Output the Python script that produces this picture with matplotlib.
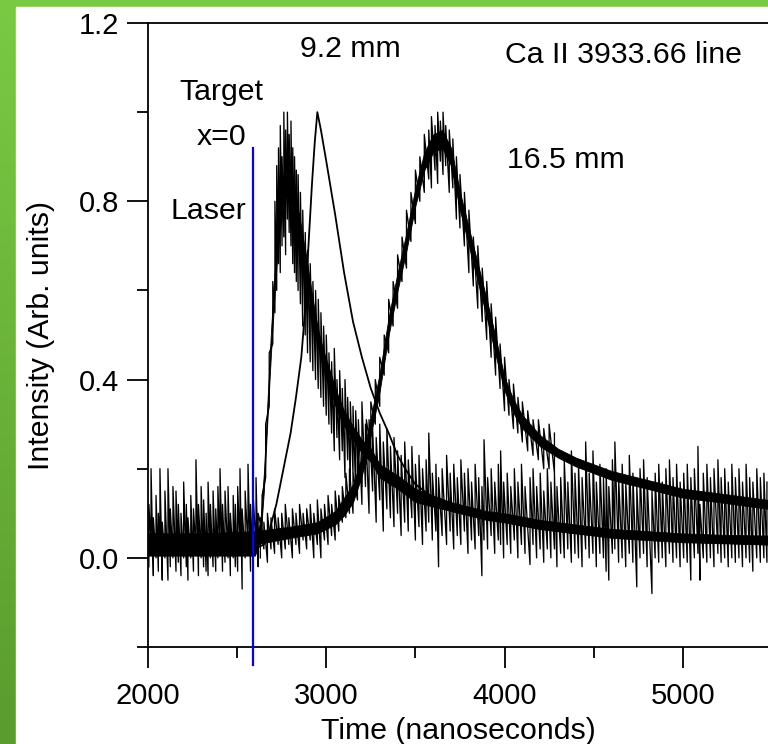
import numpy as np
import matplotlib
matplotlib.use('Agg')
import matplotlib.pyplot as plt
from matplotlib.patches import Rectangle
from matplotlib.ticker import MultipleLocator, FormatStrFormatter

plt.rcParams['font.family'] = ['Liberation Sans', 'DejaVu Sans']

# --- data ---
# nearest position (very noisy trace): dense core of the trace
near_t = [2000, 2150, 2300, 2450, 2600, 2630, 2650, 2670, 2690, 2710, 2730, 2750, 2770,
          2790, 2810, 2830, 2860, 2890, 2920, 2950, 2980, 3020, 3060, 3100, 3150, 3200,
          3250, 3300, 3400, 3500, 3600, 3700, 3800, 3900, 4000, 4200, 4400, 4600, 4800,
          5000, 5200, 5478]
near_lo = [0.005, 0.005, 0.005, 0.005, 0.005, 0.04, 0.15, 0.31, 0.46, 0.59, 0.71, 0.77, 0.82,
           0.83, 0.80, 0.76, 0.69, 0.62, 0.54, 0.48, 0.43, 0.38, 0.33, 0.295, 0.265, 0.235,
           0.215, 0.18, 0.155, 0.125, 0.115, 0.105, 0.095, 0.085, 0.08, 0.065, 0.055, 0.045,
           0.04, 0.035, 0.033, 0.03]
near_hi = [0.045, 0.045, 0.045, 0.045, 0.045, 0.08, 0.19, 0.35, 0.51, 0.64, 0.76, 0.82, 0.87,
           0.88, 0.85, 0.81, 0.74, 0.67, 0.59, 0.52, 0.47, 0.42, 0.37, 0.33, 0.295, 0.265,
           0.245, 0.21, 0.185, 0.155, 0.14, 0.125, 0.115, 0.105, 0.10, 0.085, 0.075, 0.065,
           0.06, 0.055, 0.052, 0.05]

# 9.2 mm (smooth trace)
mid_t = [2000, 2300, 2600, 2650, 2680, 2720, 2760, 2800, 2830, 2860, 2880, 2900, 2920, 2935,
         2950, 2970, 3000, 3050, 3100, 3150, 3200, 3250, 3300, 3350, 3400, 3450, 3500, 3600,
         3700, 3800, 3900, 4000, 4200, 4400, 4600, 4800, 5000, 5200, 5478]
mid_v = [0.02, 0.02, 0.02, 0.03, 0.06, 0.12, 0.20, 0.28, 0.36, 0.45, 0.55, 0.70, 0.84, 0.93,
         1.0, 0.96, 0.89, 0.77, 0.64, 0.53, 0.45, 0.38, 0.325, 0.28, 0.23, 0.195, 0.165, 0.135,
         0.115, 0.10, 0.088, 0.08, 0.065, 0.055, 0.048, 0.042, 0.038, 0.034, 0.03]

# 16.5 mm (moderately noisy trace): dense core
far_t = [2000, 2300, 2600, 2800, 2950, 3050, 3100, 3150, 3200, 3250, 3300, 3350, 3400, 3450,
         3500, 3550, 3600, 3650, 3700, 3750, 3800, 3850, 3900, 3950, 4000, 4050, 4100, 4200,
         4300, 4400, 4500, 4600, 4800, 5000, 5200, 5478]
far_lo = [0.025, 0.025, 0.03, 0.045, 0.055, 0.075, 0.095, 0.125, 0.185, 0.275, 0.375, 0.50,
          0.60, 0.69, 0.79, 0.87, 0.91, 0.92, 0.88, 0.78, 0.70, 0.62, 0.54, 0.455, 0.375,
          0.325, 0.29, 0.25, 0.225, 0.205, 0.19, 0.175, 0.155, 0.135, 0.125, 0.11]
far_hi = [0.055, 0.055, 0.06, 0.07, 0.08, 0.105, 0.135, 0.165, 0.225, 0.315, 0.415, 0.54,
          0.64, 0.73, 0.83, 0.91, 0.95, 0.96, 0.92, 0.82, 0.74, 0.66, 0.58, 0.495, 0.405,
          0.355, 0.32, 0.275, 0.245, 0.225, 0.21, 0.195, 0.175, 0.155, 0.145, 0.13]

# noise excursions of the noisy traces: (time, low end, high end)
near_spikes = [
    (2005, -0.02, 0.12), (2017, 0.03, 0.20), (2030, -0.04, 0.09), (2045, 0.00, 0.14),
    (2058, -0.03, 0.10), (2067, 0.03, 0.20), (2080, -0.05, 0.08), (2095, 0.00, 0.15),
    (2112, -0.05, 0.20), (2125, -0.02, 0.11), (2140, 0.00, 0.16), (2157, -0.03, 0.15),
    (2170, -0.01, 0.12), (2185, -0.04, 0.10), (2200, 0.00, 0.17), (2215, -0.02, 0.12),
    (2224, -0.05, 0.09), (2240, 0.00, 0.14), (2255, -0.03, 0.11), (2269, 0.02, 0.22),
    (2283, -0.04, 0.12), (2298, 0.00, 0.16), (2312, -0.02, 0.13), (2326, -0.03, 0.10),
    (2337, -0.04, 0.17), (2350, 0.00, 0.12), (2365, -0.02, 0.15), (2380, -0.03, 0.11),
    (2392, 0.00, 0.16), (2404, 0.02, 0.20), (2418, -0.03, 0.12), (2432, -0.01, 0.15),
    (2449, 0.00, 0.16), (2462, -0.04, 0.10), (2478, 0.00, 0.14), (2490, -0.02, 0.12),
    (2503, -0.03, 0.16), (2516, 0.02, 0.20), (2528, -0.07, 0.11), (2545, 0.00, 0.15),
    (2561, 0.02, 0.21), (2575, -0.03, 0.12), (2590, -0.02, 0.14), (2606, 0.02, 0.18),
    (2618, -0.02, 0.10), (2640, 0.06, 0.14), (2660, 0.18, 0.30), (2680, 0.34, 0.46),
    (2700, 0.48, 0.62), (2712, 0.55, 0.80),
    (2722, 0.60, 0.88), (2732, 0.66, 0.92), (2742, 0.64, 0.97), (2752, 0.70, 0.90),
    (2762, 0.72, 1.00), (2772, 0.68, 0.96), (2782, 0.76, 1.00), (2792, 0.73, 0.95),
    (2802, 0.70, 0.98), (2812, 0.66, 0.92), (2822, 0.64, 0.90), (2832, 0.62, 0.87),
    (2842, 0.60, 0.86), (2855, 0.57, 0.82), (2868, 0.52, 0.78), (2882, 0.50, 0.73),
    (2895, 0.46, 0.69), (2910, 0.44, 0.66), (2925, 0.42, 0.62), (2940, 0.40, 0.60),
    (2955, 0.38, 0.58), (2970, 0.36, 0.55), (2985, 0.34, 0.52), (3000, 0.32, 0.50),
    (3015, 0.30, 0.46), (3030, 0.28, 0.44), (3045, 0.24, 0.47), (3060, 0.27, 0.40),
    (3075, 0.22, 0.42), (3090, 0.24, 0.38), (3105, 0.18, 0.40), (3120, 0.22, 0.36),
    (3135, 0.17, 0.35), (3150, 0.19, 0.34), (3165, 0.15, 0.33), (3180, 0.18, 0.31),
    (3200, 0.12, 0.35), (3220, 0.16, 0.30), (3240, 0.10, 0.31), (3260, 0.15, 0.29),
    (3280, 0.08, 0.27), (3300, 0.13, 0.30), (3320, 0.06, 0.26), (3340, 0.11, 0.29),
    (3360, 0.09, 0.25), (3380, 0.07, 0.27), (3400, 0.10, 0.24), (3420, 0.05, 0.23),
    (3440, 0.08, 0.26), (3460, 0.06, 0.22), (3480, 0.09, 0.25), (3500, 0.04, 0.21),
    (3520, 0.07, 0.23), (3540, 0.03, 0.20), (3560, 0.06, 0.22), (3575, 0.08, 0.28),
    (3595, 0.04, 0.19), (3615, 0.06, 0.21), (3630, -0.02, 0.18), (3650, 0.05, 0.20),
    (3675, 0.03, 0.23), (3695, 0.06, 0.19), (3715, 0.02, 0.21), (3735, 0.05, 0.18),
    (3755, 0.03, 0.22), (3775, 0.06, 0.19), (3795, 0.01, 0.20), (3815, 0.04, 0.17),
    (3835, 0.02, 0.21), (3855, 0.05, 0.18), (3873, -0.04, 0.16), (3885, 0.04, 0.265),
    (3905, 0.02, 0.18), (3925, 0.05, 0.20), (3945, 0.01, 0.17), (3965, 0.04, 0.21),
    (3978, 0.03, 0.24), (3995, 0.00, 0.17), (4015, 0.03, 0.19), (4035, 0.01, 0.16),
    (4055, 0.04, 0.20), (4075, 0.00, 0.17), (4095, 0.03, 0.21), (4115, 0.01, 0.16),
    (4143, -0.015, 0.18), (4160, 0.03, 0.20), (4180, 0.00, 0.16), (4200, 0.02, 0.19),
    (4220, -0.01, 0.15), (4240, 0.02, 0.20), (4260, 0.00, 0.17), (4280, 0.02, 0.19),
    (4294, -0.02, 0.16), (4315, 0.01, 0.18), (4335, 0.00, 0.22), (4355, 0.02, 0.17),
    (4375, -0.01, 0.24), (4395, 0.01, 0.19), (4415, 0.00, 0.21), (4435, -0.02, 0.18),
    (4455, 0.02, 0.26), (4475, 0.00, 0.19), (4496, 0.01, 0.24), (4515, -0.02, 0.17),
    (4535, 0.01, 0.21), (4555, 0.00, 0.18), (4570, -0.03, 0.20), (4585, -0.05, 0.16),
    (4605, 0.01, 0.22), (4619, 0.02, 0.26), (4640, -0.01, 0.18), (4660, 0.00, 0.21),
    (4680, -0.02, 0.17), (4700, 0.01, 0.23), (4720, -0.01, 0.19), (4742, -0.065, 0.16),
    (4760, 0.00, 0.20), (4780, 0.01, 0.22), (4800, -0.02, 0.18), (4827, -0.08, 0.15),
    (4845, 0.00, 0.19), (4865, -0.01, 0.21), (4885, 0.00, 0.17), (4905, -0.02, 0.20),
    (4925, 0.01, 0.22), (4945, -0.01, 0.18), (4965, 0.00, 0.21), (4985, -0.02, 0.17),
    (5005, 0.00, 0.19), (5025, -0.01, 0.21), (5045, -0.05, 0.18), (5065, 0.00, 0.20),
    (5085, 0.01, 0.25), (5096, -0.05, 0.12), (5115, 0.00, 0.19), (5135, -0.01, 0.21),
    (5155, 0.00, 0.18), (5175, -0.02, 0.20), (5197, 0.01, 0.22), (5215, -0.01, 0.18),
    (5235, 0.00, 0.20), (5255, -0.02, 0.17), (5275, 0.00, 0.21), (5295, -0.01, 0.18),
    (5315, 0.00, 0.20), (5335, -0.02, 0.17), (5355, 0.00, 0.21), (5375, -0.01, 0.18),
    (5393, -0.03, 0.17), (5415, 0.00, 0.20), (5435, -0.01, 0.18), (5455, 0.00, 0.19),
    (5472, -0.01, 0.17),
]

far_spikes = [
    (2630, 0.00, 0.09), (2650, 0.02, 0.08), (2670, -0.01, 0.10), (2690, 0.02, 0.09),
    (2710, 0.01, 0.11), (2730, 0.03, 0.09), (2750, 0.00, 0.10), (2770, 0.02, 0.12),
    (2790, 0.03, 0.09), (2810, 0.00, 0.11), (2830, 0.03, 0.10), (2850, 0.01, 0.12),
    (2870, 0.04, 0.10), (2890, 0.02, 0.11), (2910, 0.04, 0.12), (2930, 0.00, 0.10),
    (2950, 0.03, 0.13), (2970, 0.00, 0.11), (2990, 0.04, 0.12), (3010, 0.03, 0.14),
    (3030, 0.05, 0.12), (3050, 0.04, 0.15), (3070, 0.06, 0.14), (3090, 0.08, 0.16),
    (3110, 0.09, 0.19), (3130, 0.10, 0.20), (3150, 0.10, 0.19), (3175, 0.13, 0.24),
    (3200, 0.16, 0.26), (3225, 0.21, 0.31), (3250, 0.24, 0.35), (3275, 0.30, 0.40),
    (3300, 0.34, 0.45), (3325, 0.41, 0.50), (3350, 0.46, 0.58), (3375, 0.52, 0.62),
    (3400, 0.56, 0.68), (3425, 0.62, 0.72), (3450, 0.65, 0.78), (3475, 0.71, 0.82),
    (3500, 0.75, 0.87), (3525, 0.80, 0.90), (3550, 0.82, 0.95), (3575, 0.85, 0.96),
    (3590, 0.83, 0.99), (3610, 0.87, 0.97), (3625, 0.84, 1.00), (3640, 0.89, 0.98),
    (3655, 0.86, 1.00), (3670, 0.88, 0.97), (3690, 0.82, 0.96), (3710, 0.83, 0.94),
    (3730, 0.76, 0.90), (3750, 0.74, 0.86), (3775, 0.70, 0.82), (3800, 0.64, 0.78),
    (3825, 0.61, 0.72), (3850, 0.56, 0.70), (3875, 0.53, 0.65), (3900, 0.49, 0.62),
    (3925, 0.45, 0.57), (3950, 0.41, 0.54), (3975, 0.38, 0.48), (4000, 0.33, 0.45),
    (4025, 0.32, 0.40), (4050, 0.29, 0.39), (4075, 0.28, 0.36), (4100, 0.26, 0.35),
    (4130, 0.24, 0.33), (4160, 0.23, 0.31), (4190, 0.22, 0.31), (4220, 0.20, 0.29),
    (4250, 0.20, 0.30), (4280, 0.19, 0.28),
]

laser_t = 2590
laser_span = (-0.24, 0.92)

# --- figure ---
fig = plt.figure(figsize=(7.68, 7.44), dpi=100)

# green frame on the left and top
bg = fig.add_axes([0, 0, 1, 1], zorder=-5)
bg.set_axis_off()
top_col = np.array([0x7a, 0xca, 0x44]) / 255
bot_col = np.array([0x5a, 0x9c, 0x2e]) / 255
grad = np.linspace(0, 1, 256)[:, None, None] * (bot_col - top_col) + top_col
bg.imshow(np.repeat(grad, 2, axis=1), extent=(0, 1, 0, 1), aspect='auto')
bg.add_patch(Rectangle((16 / 768, 0), 1, 1 - 7 / 744, color='white'))
bg.set_xlim(0, 1)
bg.set_ylim(0, 1)

ax = fig.add_axes([148 / 768, 1 - 647 / 744, 620 / 768, 624 / 744])
ax.set_facecolor('white')

ax.fill_between(near_t, near_lo, near_hi, color='black', lw=0.6)
ax.fill_between(far_t, far_lo, far_hi, color='black', lw=0.6)
# noisy traces: zig-zag through the read excursions
for sp in (near_spikes, far_spikes):
    st, slo, shi = (np.array(v) for v in zip(*sp))
    ax.plot(np.repeat(st, 2), np.column_stack([slo, shi]).ravel(),
            color='black', lw=0.95)
ax.plot(mid_t, mid_v, color='black', lw=1.3)

ax.plot([laser_t, laser_t], laser_span, color='#0000ff', lw=1.6, clip_on=False, zorder=5)

ax.set_xlim(2000, 5478)
ax.set_ylim(-0.2, 1.2)
ax.xaxis.set_major_locator(MultipleLocator(1000))
ax.xaxis.set_minor_locator(MultipleLocator(500))
ax.set_yticks([0.0, 0.4, 0.8, 1.2])
ax.set_yticks([-0.2, 0.2, 0.6, 1.0], minor=True)
ax.yaxis.set_major_formatter(FormatStrFormatter('%.1f'))

ax.spines['right'].set_visible(False)
for s in ['left', 'bottom', 'top']:
    ax.spines[s].set_linewidth(1.3)
ax.tick_params(which='major', direction='out', length=15, width=1.3, labelsize=21, pad=6)
ax.tick_params(which='minor', direction='out', length=8, width=1.3)
ax.tick_params(axis='x', which='major', pad=10)

ax.set_xlabel('Time (nanoseconds)', fontsize=21.8, labelpad=5)
ax.set_ylabel('Intensity (Arb. units)', fontsize=21.8, labelpad=17)

ax.text(4002, 1.11, 'Ca II 3933.66 line', fontsize=21.8)
ax.text(2852, 1.123, '9.2 mm', fontsize=21.8)
ax.text(4013, 0.874, '16.5 mm', fontsize=21.8)
ax.text(2409, 1.027, 'Target', fontsize=21.8, ha='center')
ax.text(2412, 0.926, 'x=0', fontsize=21.8, ha='center')
ax.text(2550, 0.760, 'Laser', fontsize=21.8, ha='right')

fig.savefig('out.png', dpi=100)
